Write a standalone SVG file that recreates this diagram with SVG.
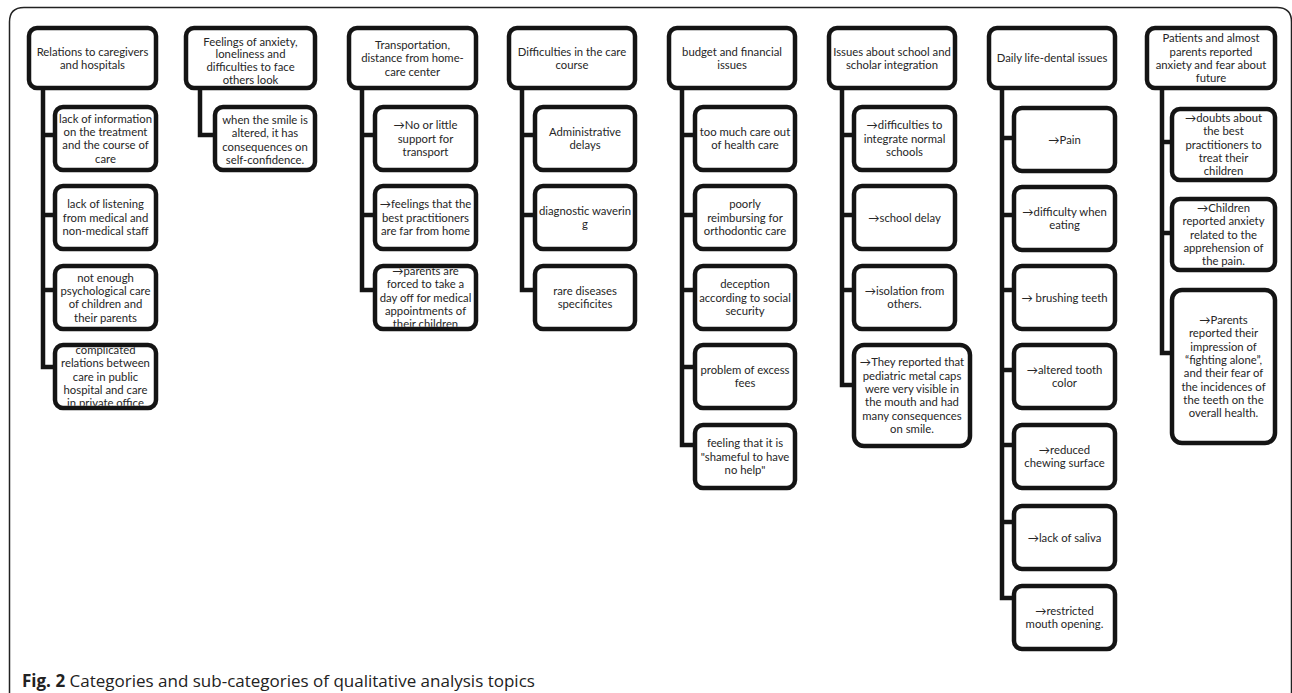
<svg xmlns="http://www.w3.org/2000/svg" width="1292" height="693" viewBox="0 0 1292 693">
<style>
.box{fill:#fff;stroke:#141414;stroke-width:4.5}
.t{font-family:Lato,"Liberation Sans",sans-serif;font-size:11.3px;fill:#262626;text-anchor:middle}
.conn{fill:none;stroke:#141414;stroke-width:4.5}
.frame{fill:none;stroke:#222;stroke-width:1.5}
.cap{font-family:"Open Sans","Liberation Sans",sans-serif;font-size:17px;fill:#222}
</style>
<defs>
<clipPath id="clipA"><rect x="57.25" y="347.25" width="96.5" height="58.5"/></clipPath>
<clipPath id="clipB"><rect x="377.25" y="268.25" width="96.5" height="58.5"/></clipPath>
</defs>
<rect width="1292" height="693" fill="#fff"/>
<path class="frame" d="M9.5 693 V22 Q9.5 7.5 24 7.5 H1277 Q1291.5 7.5 1291.5 22 V693"/>
<g id="connectors">
<path class="conn" d="M43 88 V367 H55 M43 135 H55 M43 215 H55 M43 290 H55"/>
<path class="conn" d="M200 88 V135 H215"/>
<path class="conn" d="M362 88 V290 H375 M362 135 H375 M362 215 H375"/>
<path class="conn" d="M522 88 V290 H535 M522 135 H535 M522 215 H535"/>
<path class="conn" d="M682 88 V445 H695 M682 135 H695 M682 215 H695 M682 290 H695 M682 367 H695"/>
<path class="conn" d="M842 88 V385 H854 M842 135 H854 M842 215 H854 M842 290 H854"/>
<path class="conn" d="M1002 88 V598 H1014 M1002 138 H1014 M1002 215 H1014 M1002 290 H1014 M1002 370 H1014 M1002 445 H1014 M1002 522 H1014"/>
<path class="conn" d="M1162 88 V353 H1172 M1162 142 H1172 M1162 233 H1172"/>
</g>
<g id="h1"><rect class="box" x="29" y="28" width="127" height="60" rx="8"/><text class="t" y="55.55"><tspan x="92.5">Relations to caregivers</tspan><tspan x="92.5" dy="13.3">and hospitals</tspan></text></g>
<g id="h1c1"><rect class="box" x="55" y="107" width="101" height="63" rx="8"/><text class="t" y="122.75"><tspan x="105.5">lack of information</tspan><tspan x="105.5" dy="13.3">on the treatment</tspan><tspan x="105.5" dy="13.3">and the course of</tspan><tspan x="105.5" dy="13.3">care</tspan></text></g>
<g id="h1c2"><rect class="box" x="55" y="186" width="101" height="63" rx="8"/><text class="t" y="208.4"><tspan x="105.5">lack of listening</tspan><tspan x="105.5" dy="13.3">from medical and</tspan><tspan x="105.5" dy="13.3">non-medical staff</tspan></text></g>
<g id="h1c3"><rect class="box" x="55" y="266" width="101" height="63" rx="8"/><text class="t" y="281.75"><tspan x="105.5">not enough</tspan><tspan x="105.5" dy="13.3">psychological care</tspan><tspan x="105.5" dy="13.3">of children and</tspan><tspan x="105.5" dy="13.3">their parents</tspan></text></g>
<g id="h1c4"><rect class="box" x="55" y="345" width="101" height="63" rx="8"/><text class="t" y="354.1" clip-path="url(#clipA)"><tspan x="105.5">complicated</tspan><tspan x="105.5" dy="13.3">relations between</tspan><tspan x="105.5" dy="13.3">care in public</tspan><tspan x="105.5" dy="13.3">hospital and care</tspan><tspan x="105.5" dy="13.3">in private office</tspan></text></g>

<g id="h2"><rect class="box" x="186" y="28" width="129" height="60" rx="8"/><text class="t" y="45.5"><tspan x="250.5">Feelings of anxiety,</tspan><tspan x="250.5" dy="12.7">loneliness and</tspan><tspan x="250.5" dy="12.7">difficulties to face</tspan><tspan x="250.5" dy="12.7">others look</tspan></text></g>
<g id="h2c1"><rect class="box" x="215" y="107" width="100" height="63" rx="8"/><text class="t" y="124"><tspan x="265">when the smile is</tspan><tspan x="265" dy="13.3">altered, it has</tspan><tspan x="265" dy="13.3">consequences on</tspan><tspan x="265" dy="13.3">self-confidence.</tspan></text></g>

<g id="h3"><rect class="box" x="349" y="28" width="127" height="60" rx="8"/><text class="t" y="48.9"><tspan x="412.5">Transportation,</tspan><tspan x="412.5" dy="13.3">distance from home-</tspan><tspan x="412.5" dy="13.3">care center</tspan></text></g>
<g id="h3c1"><rect class="box" x="375" y="107" width="101" height="63" rx="8"/><text class="t" y="129.4"><tspan x="425.5">→No or little</tspan><tspan x="425.5" dy="13.3">support for</tspan><tspan x="425.5" dy="13.3">transport</tspan></text></g>
<g id="h3c2"><rect class="box" x="375" y="186" width="101" height="63" rx="8"/><text class="t" y="208.4"><tspan x="425.5">→feelings that the</tspan><tspan x="425.5" dy="13.3">best practitioners</tspan><tspan x="425.5" dy="13.3">are far from home</tspan></text></g>
<g id="h3c3"><rect class="box" x="375" y="266" width="101" height="63" rx="8"/><text class="t" y="275.1" clip-path="url(#clipB)"><tspan x="425.5">→parents are</tspan><tspan x="425.5" dy="13.3">forced to take a</tspan><tspan x="425.5" dy="13.3">day off for medical</tspan><tspan x="425.5" dy="13.3">appointments of</tspan><tspan x="425.5" dy="13.3">their children</tspan></text></g>

<g id="h4"><rect class="box" x="509" y="28" width="126" height="60" rx="8"/><text class="t" y="55.55"><tspan x="572">Difficulties in the care</tspan><tspan x="572" dy="13.3">course</tspan></text></g>
<g id="h4c1"><rect class="box" x="535" y="107" width="100" height="63" rx="8"/><text class="t" y="136.05"><tspan x="585">Administrative</tspan><tspan x="585" dy="13.3">delays</tspan></text></g>
<g id="h4c2"><rect class="box" x="535" y="186" width="100" height="63" rx="8"/><text class="t" y="215.05"><tspan x="585">diagnostic waverin</tspan><tspan x="585" dy="13.3">g</tspan></text></g>
<g id="h4c3"><rect class="box" x="535" y="266" width="100" height="63" rx="8"/><text class="t" y="295.05"><tspan x="585">rare diseases</tspan><tspan x="585" dy="13.3">specificites</tspan></text></g>

<g id="h5"><rect class="box" x="669" y="28" width="126" height="60" rx="8"/><text class="t" y="55.55"><tspan x="732">budget and financial</tspan><tspan x="732" dy="13.3">issues</tspan></text></g>
<g id="h5c1"><rect class="box" x="695" y="107" width="100" height="63" rx="8"/><text class="t" y="136.05"><tspan x="745">too much care out</tspan><tspan x="745" dy="13.3">of health care</tspan></text></g>
<g id="h5c2"><rect class="box" x="695" y="186" width="100" height="63" rx="8"/><text class="t" y="208.4"><tspan x="745">poorly</tspan><tspan x="745" dy="13.3">reimbursing for</tspan><tspan x="745" dy="13.3">orthodontic care</tspan></text></g>
<g id="h5c3"><rect class="box" x="695" y="266" width="100" height="63" rx="8"/><text class="t" y="288.4"><tspan x="745">deception</tspan><tspan x="745" dy="13.3">according to social</tspan><tspan x="745" dy="13.3">security</tspan></text></g>
<g id="h5c4"><rect class="box" x="695" y="345" width="100" height="63" rx="8"/><text class="t" y="374.05"><tspan x="745">problem of excess</tspan><tspan x="745" dy="13.3">fees</tspan></text></g>
<g id="h5c5"><rect class="box" x="695" y="425" width="100" height="63" rx="8"/><text class="t" y="447.4"><tspan x="745">feeling that it is</tspan><tspan x="745" dy="13.3">"shameful to have</tspan><tspan x="745" dy="13.3">no help"</tspan></text></g>

<g id="h6"><rect class="box" x="829" y="28" width="126" height="60" rx="8"/><text class="t" y="55.55"><tspan x="892">Issues about school and</tspan><tspan x="892" dy="13.3">scholar integration</tspan></text></g>
<g id="h6c1"><rect class="box" x="854" y="107" width="101" height="63" rx="8"/><text class="t" y="129.4"><tspan x="904.5">→difficulties to</tspan><tspan x="904.5" dy="13.3">integrate normal</tspan><tspan x="904.5" dy="13.3">schools</tspan></text></g>
<g id="h6c2"><rect class="box" x="854" y="186" width="101" height="63" rx="8"/><text class="t" y="221.7"><tspan x="904.5">→school delay</tspan></text></g>
<g id="h6c3"><rect class="box" x="854" y="266" width="101" height="63" rx="8"/><text class="t" y="295.05"><tspan x="904.5">→isolation from</tspan><tspan x="904.5" dy="13.3">others.</tspan></text></g>
<g id="h6c4"><rect class="box" x="854" y="345" width="116" height="101" rx="10"/><text class="t" y="366.45"><tspan x="912">→They reported that</tspan><tspan x="912" dy="13.3">pediatric metal caps</tspan><tspan x="912" dy="13.3">were very visible in</tspan><tspan x="912" dy="13.3">the mouth and had</tspan><tspan x="912" dy="13.3">many consequences</tspan><tspan x="912" dy="13.3">on smile.</tspan></text></g>

<g id="h7"><rect class="box" x="989" y="28" width="126" height="60" rx="8"/><text class="t" y="62.2"><tspan x="1052">Daily life-dental issues</tspan></text></g>
<g id="h7c1"><rect class="box" x="1014" y="108" width="101" height="63" rx="8"/><text class="t" y="143.7"><tspan x="1064.5">→Pain</tspan></text></g>
<g id="h7c2"><rect class="box" x="1014" y="187" width="101" height="63" rx="8"/><text class="t" y="216"><tspan x="1064.5">→difficulty when</tspan><tspan x="1064.5" dy="13.3">eating</tspan></text></g>
<g id="h7c3"><rect class="box" x="1014" y="266" width="101" height="63" rx="8"/><text class="t" y="301.7"><tspan x="1064.5">→ brushing teeth</tspan></text></g>
<g id="h7c4"><rect class="box" x="1014" y="345" width="101" height="63" rx="8"/><text class="t" y="374.05"><tspan x="1064.5">→altered tooth</tspan><tspan x="1064.5" dy="13.3">color</tspan></text></g>
<g id="h7c5"><rect class="box" x="1014" y="425" width="101" height="63" rx="8"/><text class="t" y="454.05"><tspan x="1064.5">→reduced</tspan><tspan x="1064.5" dy="13.3">chewing surface</tspan></text></g>
<g id="h7c6"><rect class="box" x="1014" y="506" width="101" height="63" rx="8"/><text class="t" y="541.7"><tspan x="1064.5">→lack of saliva</tspan></text></g>
<g id="h7c7"><rect class="box" x="1014" y="586" width="101" height="63" rx="8"/><text class="t" y="615.05"><tspan x="1064.5">→restricted</tspan><tspan x="1064.5" dy="13.3">mouth opening.</tspan></text></g>

<g id="h8"><rect class="box" x="1147" y="28" width="128" height="60" rx="8"/><text class="t" y="42.25"><tspan x="1211">Patients and almost</tspan><tspan x="1211" dy="13.3">parents reported</tspan><tspan x="1211" dy="13.3">anxiety and fear about</tspan><tspan x="1211" dy="13.3">future</tspan></text></g>
<g id="h8c1"><rect class="box" x="1172" y="109" width="103" height="71" rx="8"/><text class="t" y="122.1"><tspan x="1223.5">→doubts about</tspan><tspan x="1223.5" dy="13.3">the best</tspan><tspan x="1223.5" dy="13.3">practitioners to</tspan><tspan x="1223.5" dy="13.3">treat their</tspan><tspan x="1223.5" dy="13.3">children</tspan></text></g>
<g id="h8c2"><rect class="box" x="1172" y="199" width="103" height="71" rx="8"/><text class="t" y="212.1"><tspan x="1223.5">→Children</tspan><tspan x="1223.5" dy="13.3">reported anxiety</tspan><tspan x="1223.5" dy="13.3">related to the</tspan><tspan x="1223.5" dy="13.3">apprehension of</tspan><tspan x="1223.5" dy="13.3">the pain.</tspan></text></g>
<g id="h8c3"><rect class="box" x="1172" y="290" width="103" height="153" rx="10"/><text class="t" y="324.15"><tspan x="1223.5">→Parents</tspan><tspan x="1223.5" dy="13.3">reported their</tspan><tspan x="1223.5" dy="13.3">impression of</tspan><tspan x="1223.5" dy="13.3">“fighting alone”,</tspan><tspan x="1223.5" dy="13.3">and their fear of</tspan><tspan x="1223.5" dy="13.3">the incidences of</tspan><tspan x="1223.5" dy="13.3">the teeth on the</tspan><tspan x="1223.5" dy="13.3">overall health.</tspan></text></g>

<text class="cap" x="22" y="687"><tspan font-weight="bold">Fig. 2</tspan> Categories and sub-categories of qualitative analysis topics</text>
</svg>
